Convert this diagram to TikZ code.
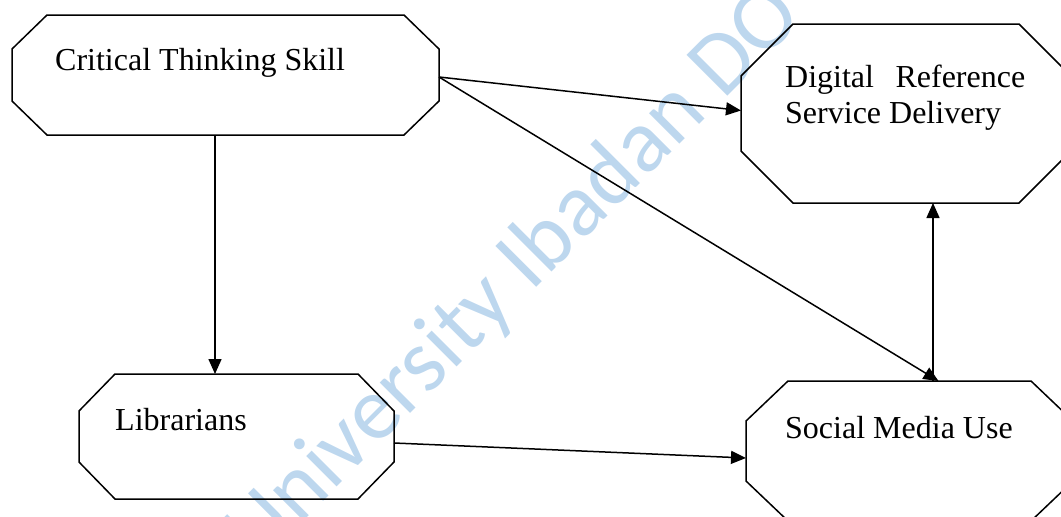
\documentclass[tikz,border=0pt]{standalone}
\usepackage{fontspec}
\setmainfont{Liberation Serif}
\newfontfamily\markfont{Carlito}
\usetikzlibrary{arrows.meta,calc}
\definecolor{markblue}{RGB}{189,215,238}

% draw an octagon over the box of a node, with corner cuts #2 (horizontal) and #3 (vertical)
\newcommand\octagonof[3]{%
  \draw[octline]
    ($(#1.north west)+(#2,0)$) -- ($(#1.north east)+(-#2,0)$) --
    ($(#1.north east)+(0,#3)$) -- ($(#1.south east)+(0,-#3)$) --
    ($(#1.south east)+(-#2,0)$) -- ($(#1.south west)+(#2,0)$) --
    ($(#1.south west)+(0,-#3)$) -- ($(#1.north west)+(0,#3)$) -- cycle;}

\tikzset{
  frame/.style={draw=none,inner sep=0pt,outer sep=0pt},
  octline/.style={line width=1.5pt,line join=miter},
  label/.style={anchor=base west,inner sep=0pt,font=\fontsize{32}{36}\selectfont},
  arr/.style={line width=1.5pt,-{Triangle[length=15pt,width=13pt]}},
}

\begin{document}
\begin{tikzpicture}[x=1pt,y=-1pt]
\useasboundingbox (0,0) rectangle (1061,517);

% background watermark
\node[anchor=base west,inner sep=0pt,rotate=45,text=markblue,
      font=\markfont\fontsize{90}{90}\selectfont] (mark) at (258,566) {University Ibadan DO};

% boxes
\node[frame,minimum width=427pt,minimum height=120pt] (cts) at (225.5,75) {};
\node[frame,minimum width=330pt,minimum height=179pt] (drs) at (906,113.5) {};
\node[frame,minimum width=315pt,minimum height=125pt] (lib) at (236.5,436.5) {};
\node[frame,minimum width=327pt,minimum height=140pt] (smu) at (909.5,451) {};

\octagonof{cts}{35}{34}
\octagonof{drs}{52}{52}
\octagonof{lib}{36}{37}
\octagonof{smu}{42}{40}

% texts
\node[label] (cts-t) at (55,70) {Critical Thinking Skill};
\node[label] (drs-t1) at (785,87) {\hbox to 240pt{Digital\hfill Reference}};
\node[label] (drs-t2) at (785,123) {Service Delivery};
\node[label] (lib-t) at (115,430) {Librarians};
\node[label] (smu-t) at (785,438) {Social Media Use};

% connectors
\coordinate (vx) at (215,0);
\coordinate (ux) at (933,0);
\draw[arr] (cts.south -| vx) -- (lib.north -| vx);
\draw[arr] ([yshift=-2pt]cts.east) -- ([yshift=3pt]drs.west);
\draw[arr] ([yshift=-2pt]cts.east) -- ([xshift=29pt]smu.north);
\draw[arr] (smu.north -| ux) -- (drs.south -| ux);
\draw[arr] ([yshift=-6.5pt]lib.east) -- ([yshift=-7pt]smu.west);
\end{tikzpicture}
\end{document}
